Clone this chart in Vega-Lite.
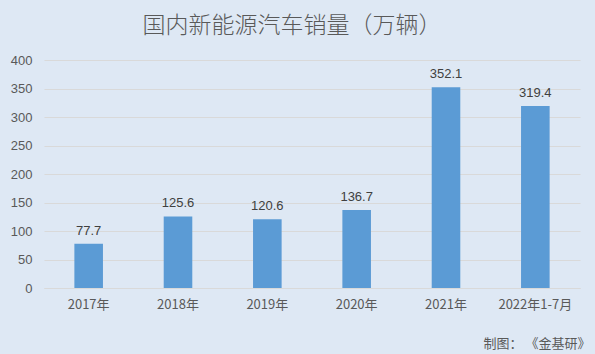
{
  "$schema": "https://vega.github.io/schema/vega-lite/v6.json",
  "autosize": "none",
  "width": 536,
  "height": 228,
  "padding": {"left": 44, "top": 60, "right": 15, "bottom": 66},
  "background": "#dee8f4",
  "title": {
    "text": "国内新能源汽车销量（万辆）",
    "font": "Noto Sans CJK SC",
    "fontSize": 23,
    "fontWeight": 300,
    "color": "#595959",
    "anchor": "middle",
    "dx": -20,
    "offset": 16
  },
  "config": {
    "view": {"stroke": null},
    "font": "Liberation Sans"
  },
  "data": {
    "values": [
      {"year": "2017年", "sales": 77.7},
      {"year": "2018年", "sales": 125.6},
      {"year": "2019年", "sales": 120.6},
      {"year": "2020年", "sales": 136.7},
      {"year": "2021年", "sales": 352.1},
      {"year": "2022年1-7月", "sales": 319.4}
    ]
  },
  "encoding": {
    "x": {
      "field": "year",
      "type": "nominal",
      "sort": null,
      "scale": {"paddingInner": 0.68, "paddingOuter": 0.34},
      "axis": {
        "title": "制图： 《金基研》",
        "titleAnchor": "end",
        "titleAlign": "right",
        "titleFont": "Noto Sans CJK SC",
        "titleFontSize": 13,
        "titleFontWeight": "normal",
        "titleColor": "#595959",
        "titlePadding": 26,
        "titleX": 546,
        "labelAngle": 0,
        "labelFont": "Noto Sans CJK SC",
        "labelFontSize": 13,
        "labelColor": "#595959",
        "labelPadding": 10,
        "ticks": false,
        "domainColor": "#d9d9d9"
      }
    },
    "y": {
      "field": "sales",
      "type": "quantitative",
      "scale": {"domain": [0, 400], "nice": false},
      "axis": {
        "title": null,
        "values": [0, 50, 100, 150, 200, 250, 300, 350, 400],
        "labelOverlap": false,
        "labelFontSize": 13,
        "labelColor": "#595959",
        "labelPadding": 12,
        "ticks": false,
        "domain": false,
        "gridColor": "#d9d9d9"
      }
    }
  },
  "layer": [
    {"mark": {"type": "bar", "color": "#5b9bd5"}},
    {
      "mark": {"type": "text", "dy": -13, "fontSize": 13, "color": "#404040", "font": "Liberation Sans"},
      "encoding": {"text": {"field": "sales", "type": "quantitative", "format": ".1f"}}
    }
  ]
}
